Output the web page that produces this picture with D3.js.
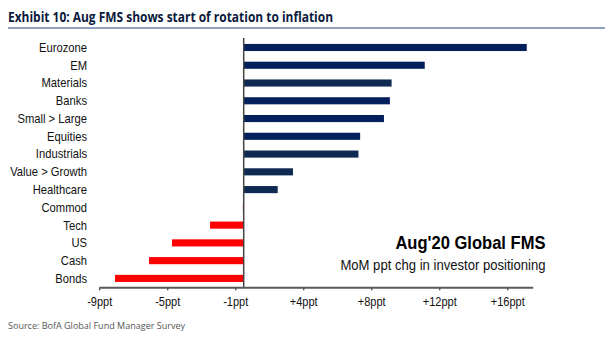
<!DOCTYPE html>
<html>
<head>
<meta charset="utf-8">
<script src="https://cdn.jsdelivr.net/npm/d3@7"></script>
<style>
  html, body { margin: 0; padding: 0; background: #fff; }
  svg { display: block; }
  .chart-text { font-family: "Liberation Sans", Arial, sans-serif; }
</style>
</head>
<body>
<svg id="chart" width="612" height="348"></svg>
<script>
// Month-on-month change in investor positioning (ppt), Aug'20 FMS
const categories = ["Eurozone", "EM", "Materials", "Banks", "Small > Large", "Equities",
  "Industrials", "Value > Growth", "Healthcare", "Commod", "Tech", "US", "Cash", "Bonds"];
const changes = [16.65, 10.65, 8.7, 8.6, 8.25, 6.85, 6.75, 2.9, 2.0, -0.05, -1.98, -4.22, -5.57, -7.57];
// bar shade groups: sectors use a slightly different navy
const shade = ["a", "a", "b", "a", "a", "a", "b", "b", "b", "b", "a", "a", "a", "a"];
const tickValues = [-8.5, -4.5, -0.5, 3.5, 7.5, 11.5, 15.5];
const tickLabels = ["-9ppt", "-5ppt", "-1ppt", "+4ppt", "+8ppt", "+12ppt", "+16ppt"];

const svg = d3.select("#chart");
const SQUEEZE = 0.92; // horizontal condensing of the chart typeface

// Title and rule
svg.append("text")
  .attr("x", 8).attr("y", 22)
  .attr("font-family", "'Open Sans', 'Liberation Sans', sans-serif")
  .attr("font-weight", 700)
  .attr("font-size", 14.5)
  .attr("fill", "#0b1a3c")
  .attr("textLength", 325)
  .attr("lengthAdjust", "spacingAndGlyphs")
  .text("Exhibit 10: Aug FMS shows start of rotation to inflation");
svg.append("line")
  .attr("x1", 8).attr("x2", 605).attr("y1", 28).attr("y2", 28)
  .attr("stroke", "#6b80a8").attr("stroke-width", 1.5);

const x = d3.scaleLinear().domain([-8.5, 17]).range([99.2, 532.7]);
const y = d3.scaleBand().domain(categories).range([38.6, 287.3])
  .paddingInner(0.6).paddingOuter(0.3);

// Bars
svg.append("g").selectAll("rect")
  .data(categories)
  .join("rect")
  .attr("x", (d, i) => x(Math.min(0, changes[i])))
  .attr("width", (d, i) => Math.abs(x(changes[i]) - x(0)))
  .attr("y", d => y(d))
  .attr("height", y.bandwidth())
  .attr("fill", (d, i) => changes[i] < 0 ? "#ff0000" : (shade[i] === "b" ? "#0e2a52" : "#031f5c"));

// Category labels
svg.append("g").attr("class", "chart-text").selectAll("text")
  .data(categories)
  .join("text")
  .attr("transform", d => `translate(87,${y(d) + y.bandwidth() / 2}) scale(${SQUEEZE},1)`)
  .attr("dy", "0.36em")
  .attr("text-anchor", "end")
  .attr("font-size", 12.2)
  .attr("fill", "#111")
  .text(d => d);

// Zero line
svg.append("line")
  .attr("x1", x(0)).attr("x2", x(0))
  .attr("y1", 38).attr("y2", y.range()[1])
  .attr("stroke", "#444").attr("stroke-width", 1.5);

// X axis
const axis = svg.append("g")
  .attr("transform", `translate(0,${y.range()[1]})`)
  .call(d3.axisBottom(x).tickValues(tickValues)
    .tickFormat((d, i) => tickLabels[i]).tickSize(3).tickSizeOuter(0));
axis.select(".domain").attr("stroke", "#595959").attr("stroke-width", 2);
axis.selectAll(".tick line").attr("stroke", "#595959").attr("stroke-width", 1.5);
axis.attr("font-family", null).attr("font-size", null);
axis.selectAll(".tick text")
  .attr("class", "chart-text")
  .attr("font-size", 12)
  .attr("fill", "#111")
  .attr("y", 10)
  .attr("transform", `scale(${SQUEEZE},1)`);

// Annotation
svg.append("text").attr("class", "chart-text")
  .attr("transform", `translate(545.5,249) scale(${SQUEEZE},1)`)
  .attr("text-anchor", "end")
  .attr("font-weight", 700)
  .attr("font-size", 18)
  .attr("fill", "#000")
  .text("Aug'20 Global FMS");
svg.append("text").attr("class", "chart-text")
  .attr("transform", `translate(545.5,270) scale(${SQUEEZE + 0.015},1)`)
  .attr("text-anchor", "end")
  .attr("font-size", 14)
  .attr("fill", "#111")
  .text("MoM ppt chg in investor positioning");

// Source
svg.append("text")
  .attr("x", 8).attr("y", 329)
  .attr("font-family", "'Open Sans', 'Liberation Sans', sans-serif")
  .attr("font-size", 9.5)
  .attr("fill", "#555")
  .attr("textLength", 177)
  .attr("lengthAdjust", "spacingAndGlyphs")
  .text("Source: BofA Global Fund Manager Survey");
</script>
</body>
</html>
